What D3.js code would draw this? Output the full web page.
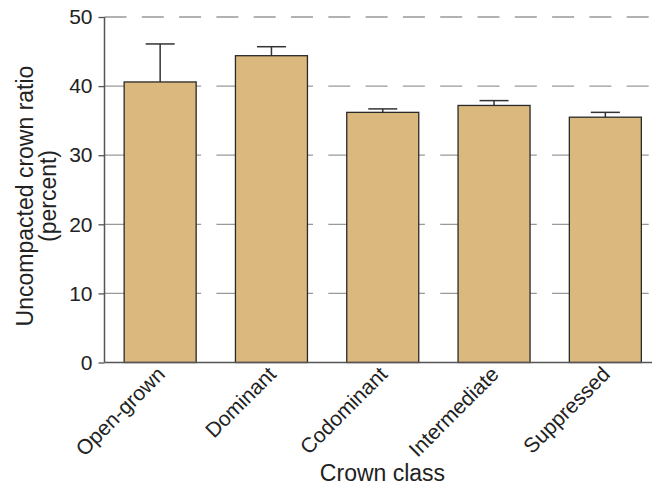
<!DOCTYPE html>
<html>
<head>
<meta charset="utf-8">
<script src="https://cdn.jsdelivr.net/npm/d3@7"></script>
<style>
  body { margin: 0; background: #fff; }
  text { font-family: "Liberation Sans", Arial, sans-serif; fill: #222; }
</style>
</head>
<body>
<div id="chart"></div>
<script>
const classes = ["Open-grown", "Dominant", "Codominant", "Intermediate", "Suppressed"];
const means = [40.6, 44.4, 36.2, 37.2, 35.5];
const upper = [46.1, 45.7, 36.7, 37.9, 36.2];
const yTicks = [0, 10, 20, 30, 40, 50];

const width = 652;
const height = 487;
const margin = { top: 17, right: 0, bottom: 124.5, left: 104.5 };

const svg = d3.select("#chart")
  .append("svg")
  .attr("width", width)
  .attr("height", height);

const x = d3.scaleBand()
  .domain(classes)
  .range([margin.left, margin.left + 556.5])
  .paddingInner(0.353)
  .paddingOuter(0.1765);

const y = d3.scaleLinear()
  .domain([0, 50])
  .range([height - margin.bottom, margin.top]);

// dashed grid
svg.append("g")
  .selectAll("line")
  .data(yTicks.filter(d => d > 0))
  .join("line")
  .attr("x1", margin.left)
  .attr("x2", width)
  .attr("y1", d => y(d))
  .attr("y2", d => y(d))
  .attr("stroke", "#999")
  .attr("stroke-width", 1.3)
  .attr("stroke-dasharray", "22,15.3");

// error bars (upper only)
const err = svg.append("g")
  .attr("stroke", "#333")
  .attr("stroke-width", 1.5);

classes.forEach((c, i) => {
  const cx = x(c) + x.bandwidth() / 2;
  err.append("line")
    .attr("x1", cx).attr("x2", cx)
    .attr("y1", y(means[i])).attr("y2", y(upper[i]));
  err.append("line")
    .attr("x1", cx - 14.5).attr("x2", cx + 14.5)
    .attr("y1", y(upper[i])).attr("y2", y(upper[i]));
});

// bars
svg.append("g")
  .selectAll("rect")
  .data(classes)
  .join("rect")
  .attr("x", d => x(d))
  .attr("y", (d, i) => y(means[i]))
  .attr("width", x.bandwidth())
  .attr("height", (d, i) => y(0) - y(means[i]))
  .attr("fill", "#dbb87d")
  .attr("stroke", "#2a2a2a")
  .attr("stroke-width", 1.3);

// y axis
const yAxis = svg.append("g")
  .attr("transform", `translate(${margin.left},0)`)
  .call(d3.axisLeft(y).tickValues(yTicks).tickSize(6).tickPadding(6));
yAxis.select(".domain").remove();
yAxis.selectAll(".tick line").attr("stroke", "#555").attr("stroke-width", 1.3);
yAxis.selectAll("text")
  .attr("font-size", 21)
  .attr("fill", "#222")
  .style("font-family", "'Liberation Sans', Arial, sans-serif");

svg.append("line")
  .attr("x1", margin.left).attr("x2", margin.left)
  .attr("y1", y(50)).attr("y2", y(0))
  .attr("stroke", "#555").attr("stroke-width", 1.5);

// x axis line
svg.append("line")
  .attr("x1", margin.left).attr("x2", width)
  .attr("y1", y(0)).attr("y2", y(0))
  .attr("stroke", "#555").attr("stroke-width", 1.5);

// x labels
svg.append("g")
  .selectAll("text")
  .data(classes)
  .join("text")
  .attr("transform", d => `translate(${x(d) + x.bandwidth() / 2 + 6},${y(0) + 13}) rotate(-45)`)
  .attr("text-anchor", "end")
  .attr("font-size", 21)
  .text(d => d);

// titles
svg.append("text")
  .attr("x", 382.5)
  .attr("y", 481)
  .attr("text-anchor", "middle")
  .attr("font-size", 23)
  .text("Crown class");

svg.append("text")
  .attr("transform", "translate(33,196) rotate(-90)")
  .attr("text-anchor", "middle")
  .attr("font-size", 23)
  .text("Uncompacted crown ratio");

svg.append("text")
  .attr("transform", "translate(56,196) rotate(-90)")
  .attr("text-anchor", "middle")
  .attr("font-size", 23)
  .text("(percent)");
</script>
</body>
</html>
